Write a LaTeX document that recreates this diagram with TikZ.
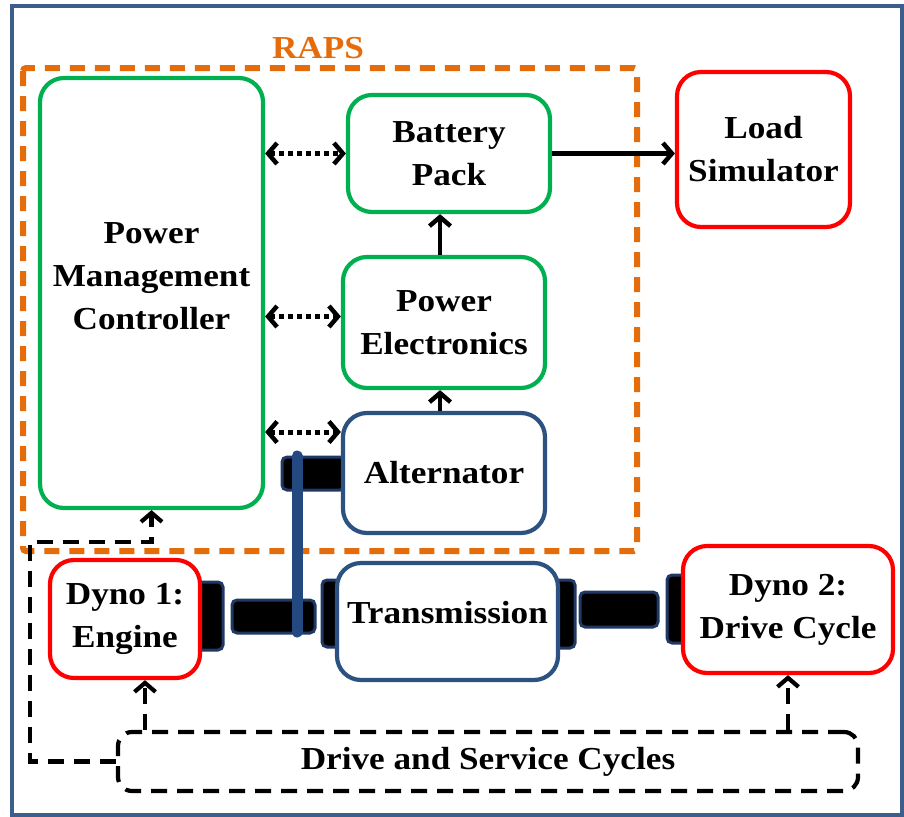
\documentclass[tikz,border=0pt]{standalone}
\usepackage{fontspec}
\setmainfont{Liberation Serif}[FakeStretch=1.1]
\usetikzlibrary{arrows.meta}
\definecolor{frameblue}{RGB}{59,94,140}
\definecolor{rapsorange}{RGB}{228,108,10}
\definecolor{ctrlgreen}{RGB}{0,176,80}
\definecolor{dynored}{RGB}{255,0,0}
\definecolor{mechblue}{RGB}{44,82,130}
\definecolor{shaftedge}{RGB}{31,56,100}
\definecolor{beltblue}{RGB}{36,72,128}

\begin{document}
\begin{tikzpicture}[x=1pt,y=-1pt,
  lbl/.style={align=center,font=\bfseries\fontsize{32}{43}\selectfont,inner sep=0pt},
  box/.style={lbl,draw,line width=4.2pt,rounded corners=24pt,fill=white},
  greenbox/.style={box,draw=ctrlgreen},
  redbox/.style={box,draw=dynored},
  mechbox/.style={box,draw=mechblue},
  shaft/.style={draw=shaftedge,fill=black,line width=3pt,rounded corners=5pt},
  datalink/.style={line width=5pt,dash pattern=on 4.5pt off 4.5pt,{Straight Barb[length=9pt,width=21pt,line width=4.5pt]}-{Straight Barb[length=9pt,width=21pt,line width=4.5pt]}},
  powerlink/.style={line width=4.5pt,-{Straight Barb[length=9pt,width=21pt]}},
  cyclelink/.style={line width=4.2pt,dash pattern=on 16pt off 10pt,-{Straight Barb[length=9pt,width=21pt]}}]
\useasboundingbox (0,0) rectangle (904,816);
% outer frame and RAPS boundary
\draw[frameblue,line width=3.5pt] (12,6) rectangle (902,815);
\draw[rapsorange,line width=6pt,dash pattern=on 15pt off 10pt,rounded corners=3pt] (23,68) rectangle (637,551);
\node[lbl,text=rapsorange] (raps) at (318,48) {RAPS};
% couplings and shafts
\draw[shaft] (282,457) rectangle (345,490);
\draw[shaft] (190,582) rectangle (223,650);
\draw[shaft] (232,600) rectangle (315,633);
\draw[shaft] (322,580) rectangle (345,647);
\draw[shaft] (550,580) rectangle (575,648);
\draw[shaft] (580,592) rectangle (658,627);
\draw[shaft] (667,575) rectangle (692,643);
\draw[beltblue,line width=11pt,line cap=round] (297,456) -- (297,632);
% blocks
\node[greenbox,minimum width=223pt,minimum height=430pt] (pmc) at (151.5,293) {};
\node[lbl] (pmctext) at (151.5,276) {Power\\Management\\Controller};
\node[greenbox,minimum width=202pt,minimum height=117pt] (bat) at (449,153.5) {Battery\\Pack};
\node[greenbox,minimum width=202pt,minimum height=131pt] (pe) at (444,322.5) {Power\\Electronics};
\node[mechbox,minimum width=202pt,minimum height=120pt] (alt) at (444,473) {Alternator};
\node[redbox,minimum width=173pt,minimum height=155pt] (load) at (763.5,149.5) {Load\\Simulator};
\node[redbox,minimum width=150pt,minimum height=118pt] (dyno1) at (125,619) {Dyno 1:\\Engine};
\node[mechbox,minimum width=221pt,minimum height=117pt,text height=21pt,text depth=18pt] (trans) at (447.5,621.5) {Transmission};
\node[redbox,minimum width=210pt,minimum height=127pt] (dyno2) at (788,609.5) {Dyno 2:\\Drive Cycle};
\node[lbl,draw,line width=4.2pt,dash pattern=on 16pt off 10pt,rounded corners=14pt,minimum width=740pt,minimum height=59pt] (cycles) at (488,761.5) {Drive and Service Cycles};
% links
\draw[datalink] (pmc.east |- bat.west) -- (bat.west);
\draw[datalink] ([yshift=6pt]pmc.east |- pe.west) -- ([yshift=6pt]pe.west);
\draw[datalink] ([yshift=41pt]pmc.east |- alt.west) -- ([yshift=41pt]alt.west);
\draw[powerlink] ([xshift=-4pt]pe.north) -- ([xshift=-4pt]pe.north |- bat.south);
\draw[powerlink] ([xshift=-4pt]alt.north) -- ([xshift=-4pt]alt.north |- pe.south);
\draw[powerlink] (bat.east) -- (bat.east -| load.west);
\coordinate (cbend) at (30,542);
\draw[cyclelink] (cycles.west) -| (cbend) -- (cbend -| pmc.south) -- (pmc.south);
\draw[cyclelink] ([xshift=20pt]dyno1.south |- cycles.north) -- ([xshift=20pt]dyno1.south);
\draw[cyclelink] (dyno2.south |- cycles.north) -- (dyno2.south);
\end{tikzpicture}
\end{document}
